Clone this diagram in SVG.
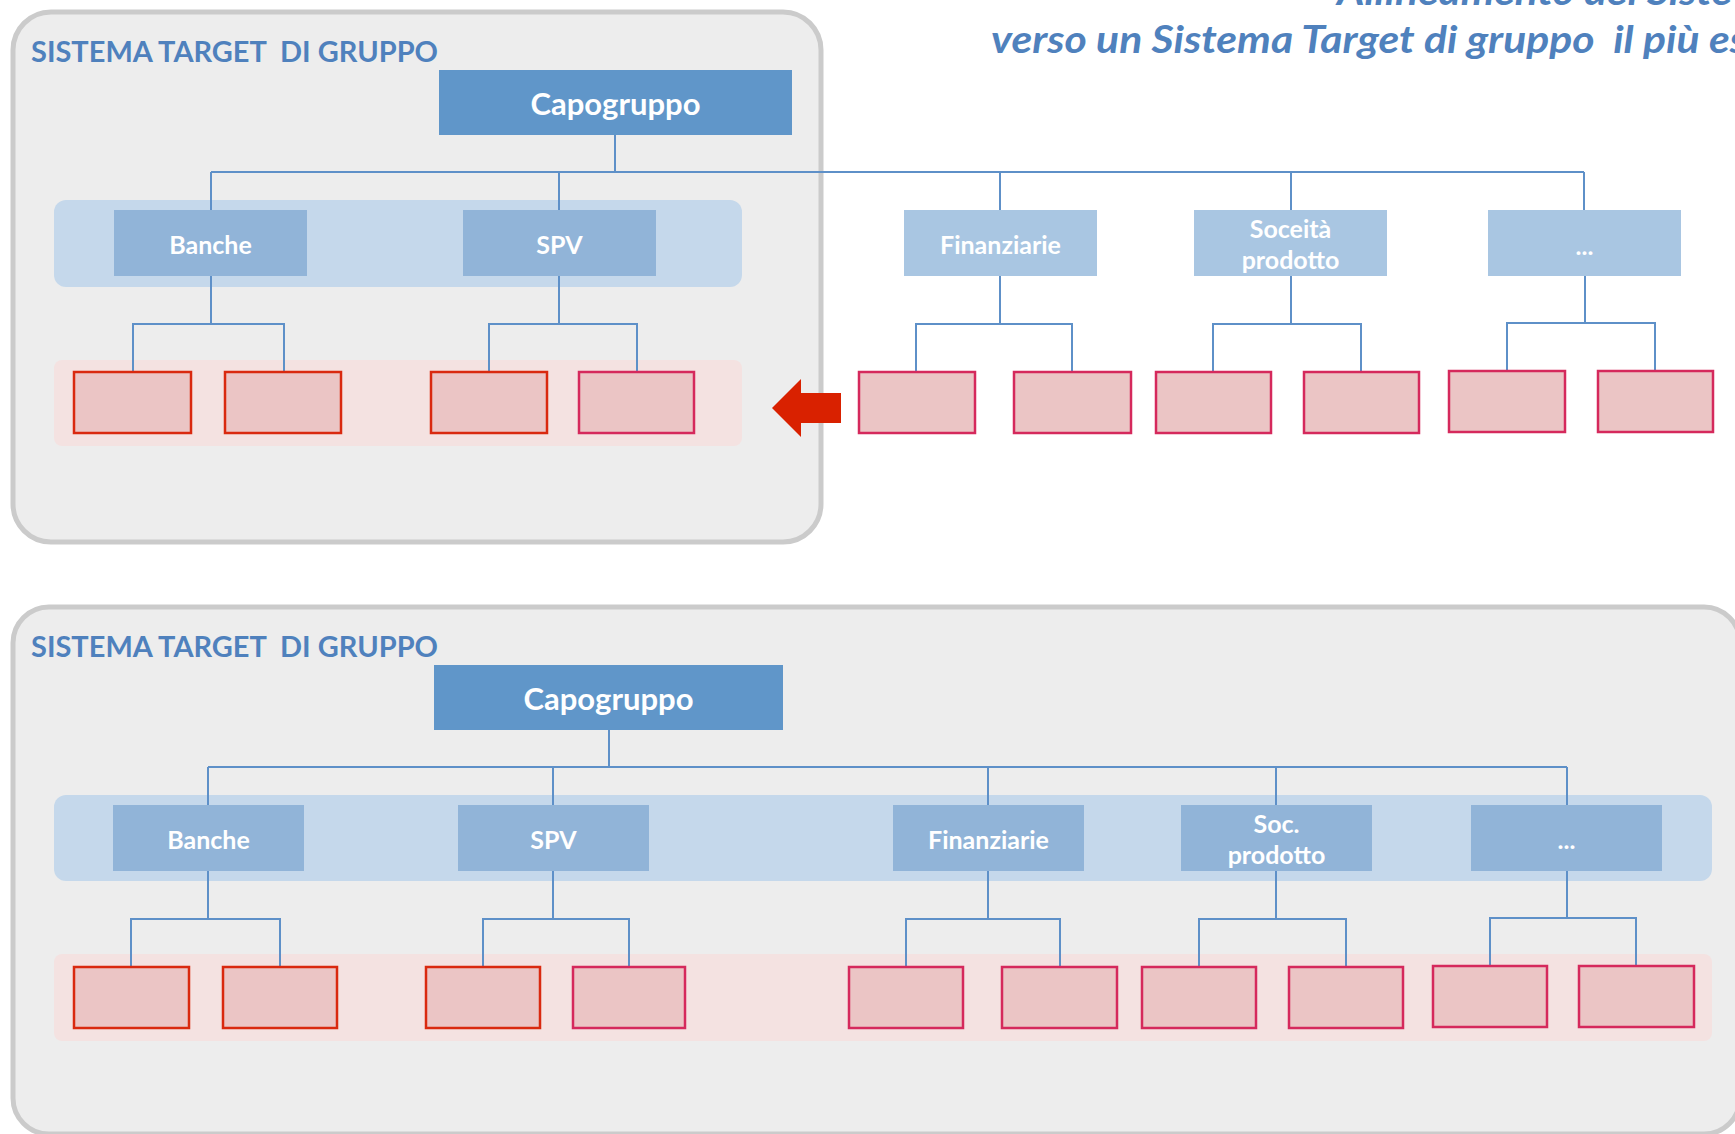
<svg xmlns="http://www.w3.org/2000/svg" width="1735" height="1134" viewBox="0 0 1735 1134">
<style>
text{font-family:Lato,"Open Sans","Liberation Sans",sans-serif;font-weight:bold}
.panel{fill:#ededed;stroke:#cbcbcb;stroke-width:5}
.ptitle{fill:#4f81bd;font-size:28px}
.htitle{fill:#4f81bd;font-size:38px;font-style:italic}
.cap{fill:#6096c9}
.capt{fill:#fff;font-size:31px;text-anchor:middle}
.band{fill:#c5d8eb}
.pband{fill:#f4e2e1}
.l2{fill:#91b4d8}
.l2o{fill:#a9c6e2}
.l2t{fill:#fff;font-size:25px;text-anchor:middle}
.rb{fill:#ebc5c5;stroke:#d9290f;stroke-width:2.5}
.cb{fill:#ebc5c5;stroke:#d5295c;stroke-width:2.5}
.conn{fill:none;stroke:#5e90c8;stroke-width:2}
</style>

<g id="header">
<text class="htitle" x="1337" y="5" textLength="395" lengthAdjust="spacingAndGlyphs">Allineamento dei Siste</text>
<text class="htitle" x="991" y="53" xml:space="preserve" textLength="756" lengthAdjust="spacingAndGlyphs">verso un Sistema Target di gruppo  il più es</text>
</g>

<g id="panel-top">
<rect class="panel" x="13" y="12" width="808" height="530" rx="38"/>
<text class="ptitle" x="31" y="62" xml:space="preserve" textLength="407" lengthAdjust="spacingAndGlyphs">SISTEMA TARGET  DI GRUPPO</text>
<rect class="band" x="54" y="200" width="688" height="87" rx="12"/>
<rect class="pband" x="54" y="360" width="688" height="86" rx="8"/>
</g>

<g id="panel-bottom">
<rect class="panel" x="13" y="607" width="1727" height="527" rx="36"/>
<text class="ptitle" x="31" y="657" xml:space="preserve" textLength="407" lengthAdjust="spacingAndGlyphs">SISTEMA TARGET  DI GRUPPO</text>
<rect class="band" x="54" y="795" width="1658" height="86" rx="12"/>
<rect class="pband" x="54" y="954" width="1658" height="87" rx="8"/>
</g>

<g id="connectors">
<path class="conn" d="M615,135V172M211,172H1584M211,172V210M559,172V210M1000,172V210M1291,172V210M1584,172V210"/>
<path class="conn" d="M211,276V324M133,372V324H284V372M559,276V324M489,372V324H637V372M1000,276V324M916,372V324H1072V372M1291,276V324M1213,372V324H1361V372M1585,276V323M1507,371V323H1655V371"/>
<path class="conn" d="M609,730V767M208,767H1567M208,767V805M553,767V805M988,767V805M1276,767V805M1567,767V805"/>
<path class="conn" d="M208,871V919M131,967V919H280V967M553,871V919M483,967V919H629V967M988,871V919M906,967V919H1060V967M1276,871V919M1199,967V919H1346V967M1567,871V918M1490,966V918H1636V966"/>
</g>

<g id="cap-top"><rect class="cap" x="439" y="70" width="353" height="65"/><text class="capt" x="615.5" y="115">Capogruppo</text></g>
<g id="banche-top"><rect class="l2" x="114" y="210" width="193" height="66"/><text class="l2t" x="210.5" y="254">Banche</text></g>
<g id="spv-top"><rect class="l2" x="463" y="210" width="193" height="66"/><text class="l2t" x="559.5" y="254">SPV</text></g>
<g id="fin-top"><rect class="l2o" x="904" y="210" width="193" height="66"/><text class="l2t" x="1000.5" y="254">Finanziarie</text></g>
<g id="soc-top"><rect class="l2o" x="1194" y="210" width="193" height="66"/><text class="l2t" x="1290.5" y="238">Soceità</text><text class="l2t" x="1290.5" y="269">prodotto</text></g>
<g id="etc-top"><rect class="l2o" x="1488" y="210" width="193" height="66"/><text class="l2t" x="1584.5" y="255">...</text></g>

<g id="leaves-top">
<rect class="rb" x="74" y="372" width="117" height="61"/>
<rect class="rb" x="225" y="372" width="116" height="61"/>
<rect class="rb" x="431" y="372" width="116" height="61"/>
<rect class="cb" x="579" y="372" width="115" height="61"/>
<rect class="cb" x="859" y="372" width="116" height="61"/>
<rect class="cb" x="1014" y="372" width="117" height="61"/>
<rect class="cb" x="1156" y="372" width="115" height="61"/>
<rect class="cb" x="1304" y="372" width="115" height="61"/>
<rect class="cb" x="1449" y="371" width="116" height="61"/>
<rect class="cb" x="1598" y="371" width="115" height="61"/>
</g>

<g id="arrow"><polygon fill="#d92100" points="772,408 801,379 801,393 841,393 841,423 801,423 801,437"/></g>

<g id="cap-bottom"><rect class="cap" x="434" y="665" width="349" height="65"/><text class="capt" x="608.5" y="710">Capogruppo</text></g>
<g id="banche-bottom"><rect class="l2" x="113" y="805" width="191" height="66"/><text class="l2t" x="208.5" y="849">Banche</text></g>
<g id="spv-bottom"><rect class="l2" x="458" y="805" width="191" height="66"/><text class="l2t" x="553.5" y="849">SPV</text></g>
<g id="fin-bottom"><rect class="l2" x="893" y="805" width="191" height="66"/><text class="l2t" x="988.5" y="849">Finanziarie</text></g>
<g id="soc-bottom"><rect class="l2" x="1181" y="805" width="191" height="66"/><text class="l2t" x="1276.5" y="833">Soc.</text><text class="l2t" x="1276.5" y="864">prodotto</text></g>
<g id="etc-bottom"><rect class="l2" x="1471" y="805" width="191" height="66"/><text class="l2t" x="1566.5" y="849">...</text></g>

<g id="leaves-bottom">
<rect class="rb" x="74" y="967" width="115" height="61"/>
<rect class="rb" x="223" y="967" width="114" height="61"/>
<rect class="rb" x="426" y="967" width="114" height="61"/>
<rect class="cb" x="573" y="967" width="112" height="61"/>
<rect class="cb" x="849" y="967" width="114" height="61"/>
<rect class="cb" x="1002" y="967" width="115" height="61"/>
<rect class="cb" x="1142" y="967" width="114" height="61"/>
<rect class="cb" x="1289" y="967" width="114" height="61"/>
<rect class="cb" x="1433" y="966" width="114" height="61"/>
<rect class="cb" x="1579" y="966" width="115" height="61"/>
</g>
</svg>
